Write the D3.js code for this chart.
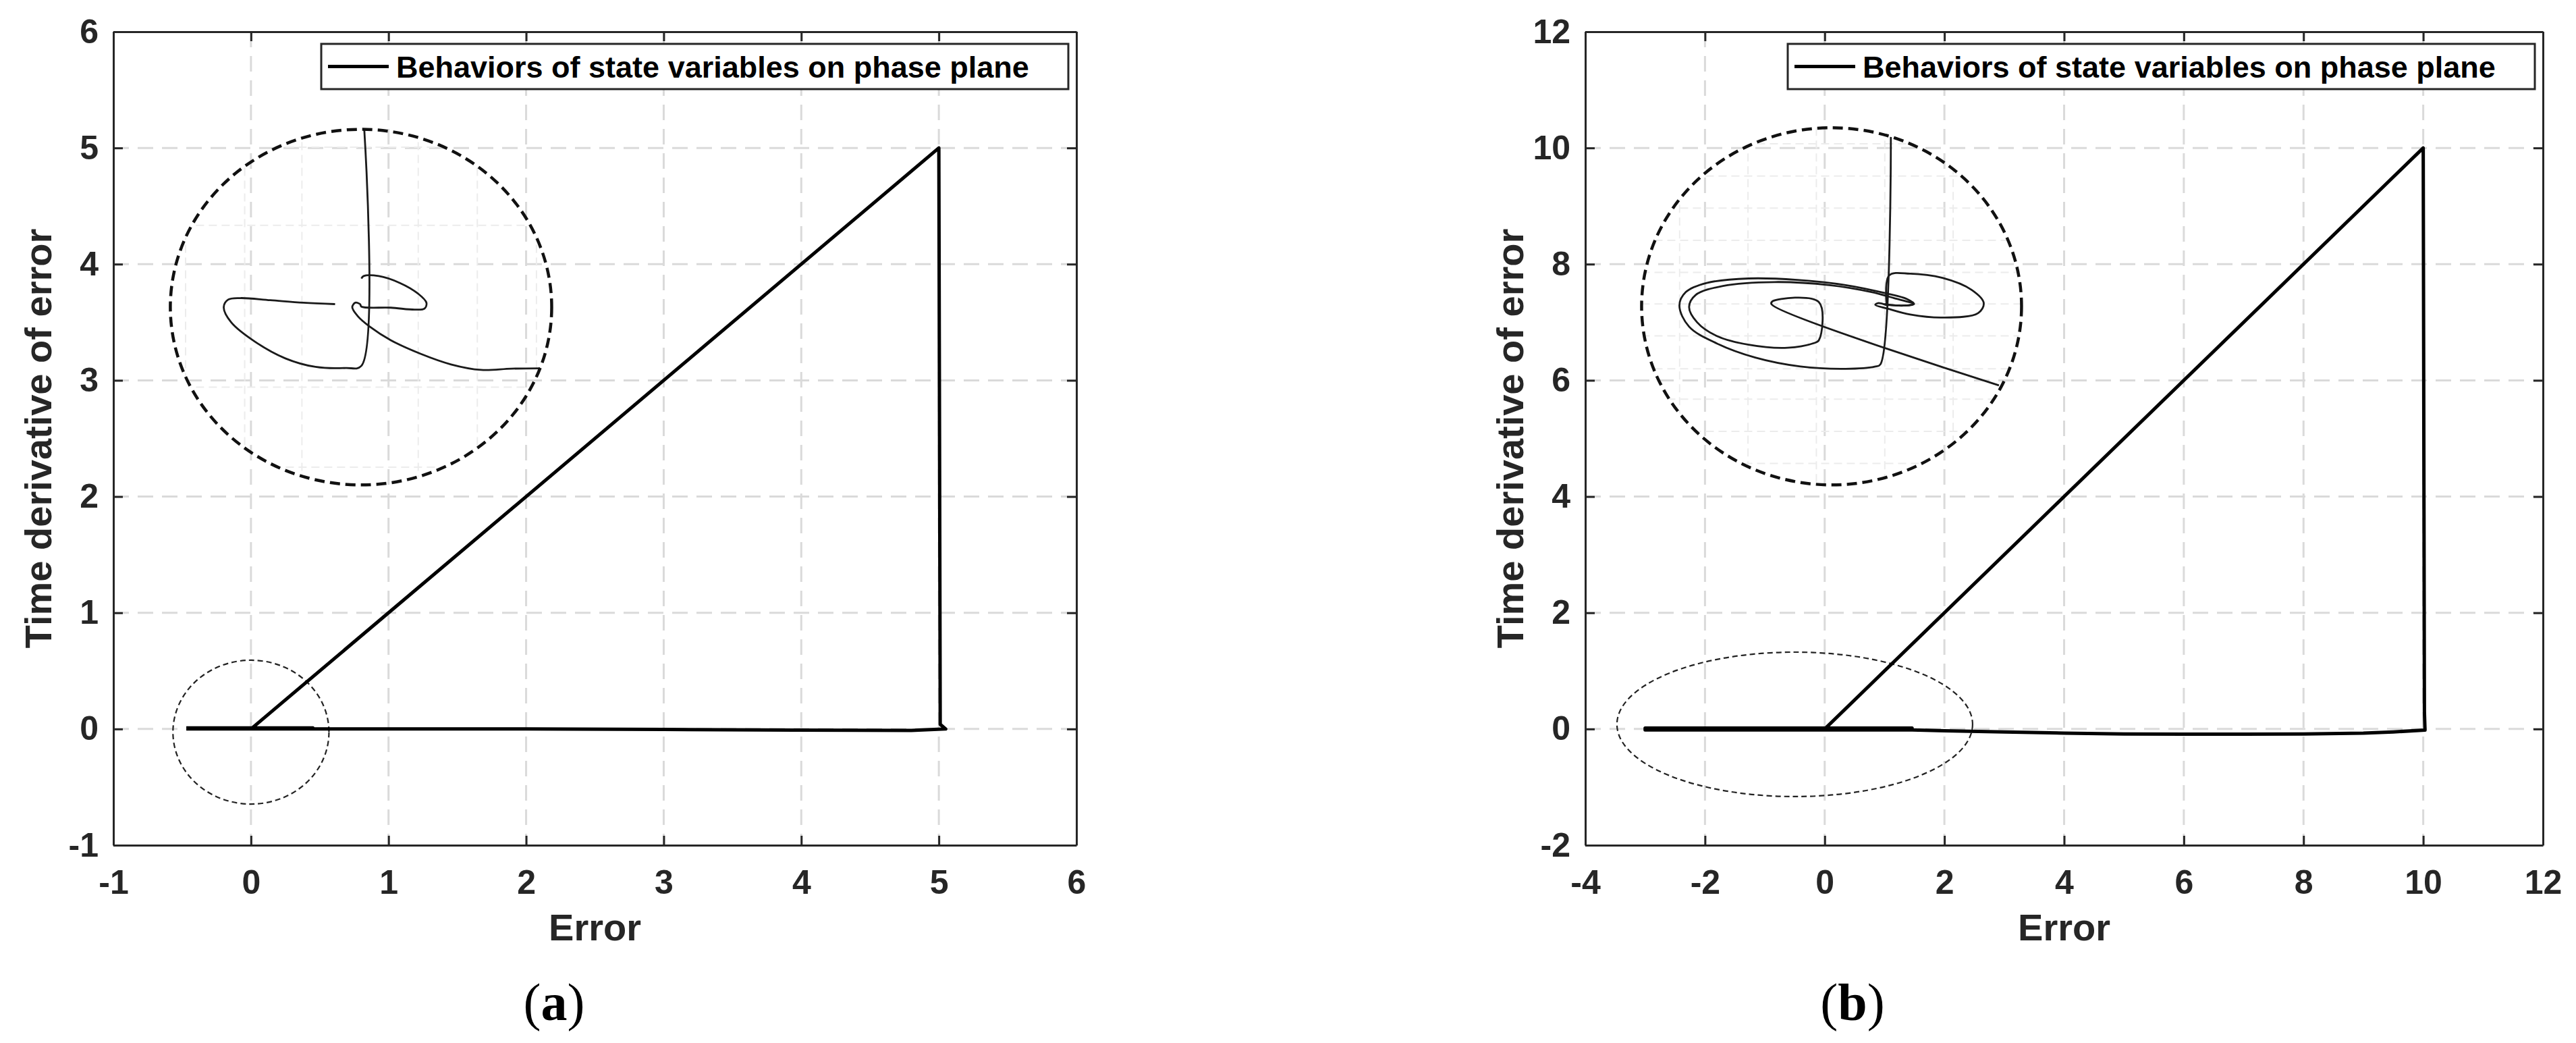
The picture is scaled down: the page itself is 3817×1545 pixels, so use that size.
<!DOCTYPE html>
<html>
<head>
<meta charset="utf-8">
<script src="https://cdn.jsdelivr.net/npm/d3@7"></script>
<style>
body { margin: 0; background: #fff; }
text { font-family: "Liberation Sans", Arial, sans-serif; }
</style>
</head>
<body>
<svg id="fig"></svg>
<script>
var W = 3817, H = 1545;

// ---- panel (a) data ----
var xTicksA = [-1, 0, 1, 2, 3, 4, 5, 6];
var yTicksA = [-1, 0, 1, 2, 3, 4, 5, 6];
// phase trajectory (error, d error / dt)
var trajA = [[-0.47, 0.01], [0.45, 0.01], [0, 0], [5, 5], [5.01, 0.04], [5.05, 0], [4.8, -0.012],
  [3.95, -0.01], [3.0, -0.004], [2.0, 0], [0.4, 0], [0, 0], [-0.47, 0]];
// zoom markers: [cx, cy, rx, ry] in data units
var bigRingA = [0.80, 3.63, 1.386, 1.53];
var smallRingA = [0, -0.027, 0.567, 0.619];
// magnified view, normalised units inside the ring
var insetA1 = [[0.017, 1.0], [0.002, -0.33], [-0.08, -0.342], [-0.239, -0.336], [-0.397, -0.288],
  [-0.555, -0.195], [-0.681, -0.085], [-0.72, 0.0], [-0.697, 0.042], [-0.633, 0.051],
  [-0.476, 0.039], [-0.302, 0.025], [-0.136, 0.017]];
var insetA2 = [[0.938, -0.344], [0.788, -0.346], [0.63, -0.353], [0.472, -0.322], [0.314, -0.263],
  [0.156, -0.186], [0.046, -0.11], [-0.017, -0.051], [-0.046, 0], [-0.03, 0.025], [-0.005, 0.017],
  [0.002, 0.003], [0.156, -0.003], [0.283, -0.014], [0.333, -0.008], [0.343, 0.025], [0.299, 0.076],
  [0.204, 0.136], [0.093, 0.175], [0.014, 0.175], [0.002, 0.161]];
var insetGridUA = [-0.92, -0.61, -0.31, 0.30, 0.61, 0.92];
var insetGridVA = [-0.9, -0.45, 0.46, 0.9];

// ---- panel (b) data ----
var xTicksB = [-4, -2, 0, 2, 4, 6, 8, 10, 12];
var yTicksB = [-2, 0, 2, 4, 6, 8, 10, 12];
var trajB = [[0, 0], [10, 10], [10.02, 0.3], [10.03, -0.02], [9.5, -0.05], [9, -0.07], [8, -0.085],
  [7, -0.09], [6, -0.09], [5, -0.085], [4, -0.07], [3, -0.05], [2, -0.03], [1.46, -0.015],
  [-3.0, -0.015], [-3.0, 0.015], [1.46, 0.015], [1.46, 0], [-3.0, 0]];
var bigRingB = [0.115, 7.274, 3.174, 3.073];
var smallRingB = [-0.5, 0.08, 2.971, 1.243];
var insetB1 = [[0.312, 0.949], [0.257, -0.325], [0.227, -0.338], [0.074, -0.350], [-0.164, -0.337],
  [-0.402, -0.287], [-0.606, -0.207], [-0.750, -0.114], [-0.801, 0.004], [-0.767, 0.080],
  [-0.657, 0.131], [-0.436, 0.156], [-0.181, 0.148], [0.074, 0.119], [0.278, 0.075], [0.397, 0.041],
  [0.434, 0.013], [0.380, 0.004], [0.295, 0.008]];
var insetB2 = [[0.881, -0.443], [-0.317, 0.013], [-0.308, 0.030], [-0.067, 0.024], [-0.067, -0.190],
  [-0.096, -0.207], [-0.232, -0.232], [-0.436, -0.215], [-0.606, -0.165], [-0.708, -0.089],
  [-0.750, -0.004], [-0.716, 0.063], [-0.572, 0.114], [-0.300, 0.136], [-0.011, 0.119], [0.210, 0.080],
  [0.329, 0.046], [0.431, 0.013], [0.363, 0.004], [0.278, 0.013]];
var insetB3 = [[0.290, 0.004], [0.303, 0.173], [0.414, 0.183], [0.584, 0.159], [0.737, 0.092],
  [0.801, 0.018], [0.771, -0.038], [0.584, -0.063], [0.414, -0.046], [0.295, -0.013], [0.230, 0.008],
  [0.244, 0.018], [0.295, 0.004]];
var insetGridUB = [-0.80, -0.44, -0.08, 0.28, 0.64];
var insetGridVB = [-0.88, -0.70, -0.52, -0.35, -0.165, 0.013, 0.19, 0.37, 0.55, 0.73, 0.91];

var legendText = "Behaviors of state variables on phase plane";

var svg = d3.select("#fig")
  .attr("width", W)
  .attr("height", H)
  .style("background", "#fff");

function drawPanel(p) {
  var x = d3.scaleLinear().domain(d3.extent(p.xTicks)).range([p.left, p.right]);
  var y = d3.scaleLinear().domain(d3.extent(p.yTicks)).range([p.bottom, p.top]);
  var g = svg.append("g");
  var clipId = "clip" + p.name;

  g.append("clipPath").attr("id", clipId)
    .append("rect")
    .attr("x", p.left).attr("y", p.top)
    .attr("width", p.right - p.left).attr("height", p.bottom - p.top);

  // grid
  var grid = g.append("g")
    .attr("stroke", "#dadada")
    .attr("stroke-width", 3)
    .attr("stroke-dasharray", "23 13");
  grid.selectAll(".gx").data(p.xTicks.slice(1, -1)).join("line")
    .attr("x1", d => x(d)).attr("x2", d => x(d))
    .attr("y1", p.top).attr("y2", p.bottom);
  grid.selectAll(".gy").data(p.yTicks.slice(1, -1)).join("line")
    .attr("y1", d => y(d)).attr("y2", d => y(d))
    .attr("x1", p.left).attr("x2", p.right);

  // magnified inset inside the big ring
  var ring = p.bigRing;
  var cx = x(ring[0]), cy = y(ring[1]);
  var rx = x(ring[0] + ring[2]) - cx, ry = cy - y(ring[1] + ring[3]);
  var ix = d3.scaleLinear().domain([-1, 1]).range([cx - rx, cx + rx]);
  var iy = d3.scaleLinear().domain([-1, 1]).range([cy + ry, cy - ry]);
  var ringClip = "ring" + p.name;
  g.append("clipPath").attr("id", ringClip)
    .append("ellipse").attr("cx", cx).attr("cy", cy).attr("rx", rx).attr("ry", ry);

  var ins = g.append("g").attr("clip-path", "url(#" + ringClip + ")");
  var ig = ins.append("g")
    .attr("stroke", "#ececec")
    .attr("stroke-width", 2)
    .attr("stroke-dasharray", "12 7");
  ig.selectAll(".iu").data(p.insetGridU).join("line")
    .attr("x1", d => ix(d)).attr("x2", d => ix(d))
    .attr("y1", cy - ry).attr("y2", cy + ry);
  ig.selectAll(".iv").data(p.insetGridV).join("line")
    .attr("y1", d => iy(d)).attr("y2", d => iy(d))
    .attr("x1", cx - rx).attr("x2", cx + rx);

  var iline = d3.line().x(d => ix(d[0])).y(d => iy(d[1])).curve(d3.curveCatmullRom.alpha(0.5));
  ins.selectAll(".iseg").data(p.inset).join("path")
    .attr("d", iline)
    .attr("fill", "none")
    .attr("stroke", "#1a1a1a")
    .attr("stroke-width", 2.8)
    .attr("stroke-linejoin", "round");

  g.append("ellipse")
    .attr("cx", cx).attr("cy", cy).attr("rx", rx).attr("ry", ry)
    .attr("fill", "none")
    .attr("stroke", "#111")
    .attr("stroke-width", 4.5)
    .attr("stroke-dasharray", "15 8");

  // small ring around the origin
  var s = p.smallRing;
  g.append("ellipse")
    .attr("cx", x(s[0])).attr("cy", y(s[1]))
    .attr("rx", x(s[0] + s[2]) - x(s[0])).attr("ry", y(s[1]) - y(s[1] + s[3]))
    .attr("fill", "none")
    .attr("stroke", "#222")
    .attr("stroke-width", 2.2)
    .attr("stroke-dasharray", "8 5");

  // main trajectory
  g.append("path")
    .datum(p.traj)
    .attr("clip-path", "url(#" + clipId + ")")
    .attr("d", d3.line().x(d => x(d[0])).y(d => y(d[1])))
    .attr("fill", "none")
    .attr("stroke", "#000")
    .attr("stroke-width", 5)
    .attr("stroke-linejoin", "round");

  // axes (inward ticks on all four sides)
  var fmt = d => String(d);
  var axes = [
    [d3.axisBottom(x).tickFormat(fmt).tickPadding(36), "translate(0," + p.bottom + ")"],
    [d3.axisLeft(y).tickFormat(fmt).tickPadding(22), "translate(" + p.left + ",0)"],
    [d3.axisTop(x).tickFormat(""), "translate(0," + p.top + ")"],
    [d3.axisRight(y).tickFormat(""), "translate(" + p.right + ",0)"]
  ];
  axes.forEach(function(a, i) {
    var ticks = (i % 2 === 0) ? p.xTicks : p.yTicks;
    var ax = g.append("g")
      .attr("transform", a[1])
      .call(a[0].tickValues(ticks).tickSizeInner(-14).tickSizeOuter(0));
    ax.select(".domain").attr("stroke", "#262626").attr("stroke-width", 3);
    ax.selectAll(".tick line").attr("stroke", "#262626").attr("stroke-width", 3);
    ax.selectAll(".tick text")
      .attr("fill", "#262626")
      .style("font-family", "'Liberation Sans', Arial, sans-serif")
      .style("font-size", "50px")
      .style("font-weight", "bold");
  });

  // axis titles
  g.append("text")
    .attr("x", (p.left + p.right) / 2)
    .attr("y", 1393)
    .attr("text-anchor", "middle")
    .style("font-size", "56px")
    .style("font-weight", "bold")
    .attr("fill", "#262626")
    .text("Error");
  g.append("text")
    .attr("transform", "translate(" + (p.left - 92) + "," + (p.top + p.bottom) / 2 + ") rotate(-90)")
    .attr("text-anchor", "middle")
    .style("font-size", "56px")
    .style("font-weight", "bold")
    .attr("fill", "#262626")
    .text("Time derivative of error");

  // legend
  var lw = 1107, lh = 67;
  var lx = p.right - 12 - lw, ly = p.top + 18;
  var lg = g.append("g").attr("transform", "translate(" + lx + "," + ly + ")");
  lg.append("rect")
    .attr("width", lw).attr("height", lh)
    .attr("fill", "#fff")
    .attr("stroke", "#262626")
    .attr("stroke-width", 3);
  lg.append("line")
    .attr("x1", 10).attr("x2", 100)
    .attr("y1", lh / 2).attr("y2", lh / 2)
    .attr("stroke", "#000").attr("stroke-width", 5);
  lg.append("text")
    .attr("x", 111).attr("y", lh / 2)
    .attr("dy", "0.36em")
    .style("font-size", "45px")
    .style("font-weight", "bold")
    .attr("fill", "#000")
    .text(legendText);

  // caption
  var cap = svg.append("text")
    .attr("x", p.captionX)
    .attr("y", 1511)
    .attr("text-anchor", "middle")
    .style("font-family", "'Liberation Serif', 'Times New Roman', serif")
    .style("font-size", "78px");
  cap.append("tspan").text("(");
  cap.append("tspan").style("font-weight", "bold").text(p.name);
  cap.append("tspan").text(")");
}

drawPanel({
  name: "a", left: 168, right: 1595, top: 47, bottom: 1252, captionX: 821,
  xTicks: xTicksA, yTicks: yTicksA, traj: trajA,
  bigRing: bigRingA, smallRing: smallRingA,
  inset: [insetA1, insetA2], insetGridU: insetGridUA, insetGridV: insetGridVA
});

drawPanel({
  name: "b", left: 2349, right: 3768, top: 47, bottom: 1252, captionX: 2745,
  xTicks: xTicksB, yTicks: yTicksB, traj: trajB,
  bigRing: bigRingB, smallRing: smallRingB,
  inset: [insetB1, insetB2, insetB3], insetGridU: insetGridUB, insetGridV: insetGridVB
});
</script>
</body>
</html>
